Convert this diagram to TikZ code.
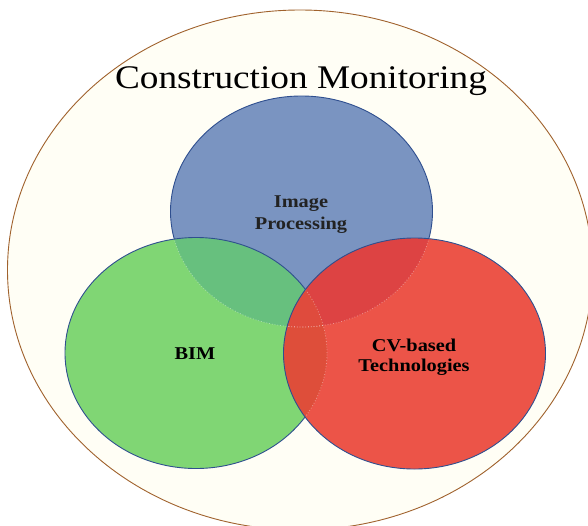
\documentclass[tikz,border=0pt]{standalone}
\usepackage{fontspec}
\setmainfont{Liberation Serif}
\newfontfamily\widefont[FakeStretch=1.13]{Liberation Serif}
\definecolor{cream}{HTML}{FFFEF5}
\definecolor{brownline}{HTML}{A0622D}
\definecolor{edgeblue}{HTML}{2F4F8F}
\definecolor{blueF}{HTML}{7A94C1}
\definecolor{greenF}{HTML}{80D674}
\definecolor{redF}{HTML}{EC5448}
\definecolor{bgF}{HTML}{67C07E}
\definecolor{brF}{HTML}{DD4343}
\definecolor{grF}{HTML}{DE4E3A}
\definecolor{tripF}{HTML}{DF4B3D}
\definecolor{imgtext}{HTML}{222222}
\def\circBlue{(301.5,211.5) ellipse [x radius=131pt, y radius=115.5pt]}
\def\circGreen{(196,353) ellipse [x radius=131pt, y radius=115.5pt]}
\def\circRed{(414.5,353.5) ellipse [x radius=131pt, y radius=115.5pt]}
\def\bigRect{(-20,-20) rectangle (620,560)}
\tikzset{
  titletext/.style={font=\widefont\fontsize{33}{36}\selectfont, inner sep=0pt, anchor=base},
  lbl/.style={font=\widefont\bfseries\fontsize{18}{22}\selectfont, inner sep=0pt, anchor=base},
  outl/.style={draw=edgeblue, line width=0.9pt},
  seam/.style={draw=white, opacity=0.4, line width=0.8pt, dotted},
  outer/.style={fill=cream, draw=brownline, line width=0.9pt}
}
\begin{document}
\begin{tikzpicture}[x=1pt,y=-1pt]
\useasboundingbox (0,0) rectangle (588,525);
\fill[white] (0,0) rectangle (588,525);
\clip (0,0) rectangle (588,525);
% outer ellipse
\path[outer] (300,270) ellipse [x radius=292.5pt, y radius=260pt];
% base fills
\fill[blueF] \circBlue;
\fill[greenF] \circGreen;
\fill[redF] \circRed;
% overlaps
\begin{scope}
  \clip \circBlue;
  \fill[bgF] \circGreen;
  \fill[brF] \circRed;
\end{scope}
\begin{scope}
  \clip \circGreen;
  \fill[grF] \circRed;
  \clip \circBlue;
  \fill[tripF] \circRed;
\end{scope}
% faint seams
\begin{scope}
  \clip \circGreen;
  \draw[seam] \circBlue;
\end{scope}
\begin{scope}
  \clip \circRed;
  \draw[seam] \circBlue;
  \draw[seam] \circGreen;
\end{scope}
% outlines
\begin{scope}[even odd rule]
  \clip \bigRect \circGreen;
  \clip \bigRect \circRed;
  \draw[outl] \circBlue;
\end{scope}
\begin{scope}[even odd rule]
  \clip \bigRect \circRed;
  \draw[outl] \circGreen;
\end{scope}
\draw[outl] \circRed;
% texts
\node[titletext] (title) at (301,88) {Construction Monitoring};
\node[lbl, text=imgtext] (img1) at (301,207.3) {Image};
\node[lbl, text=imgtext] (img2) at (301,229.3) {Processing};
\node[lbl] (bim) at (195,359.3) {BIM};
\node[lbl] (cv1) at (414,351) {CV-based};
\node[lbl] (cv2) at (414,371) {Technologies};
\end{tikzpicture}
\end{document}
